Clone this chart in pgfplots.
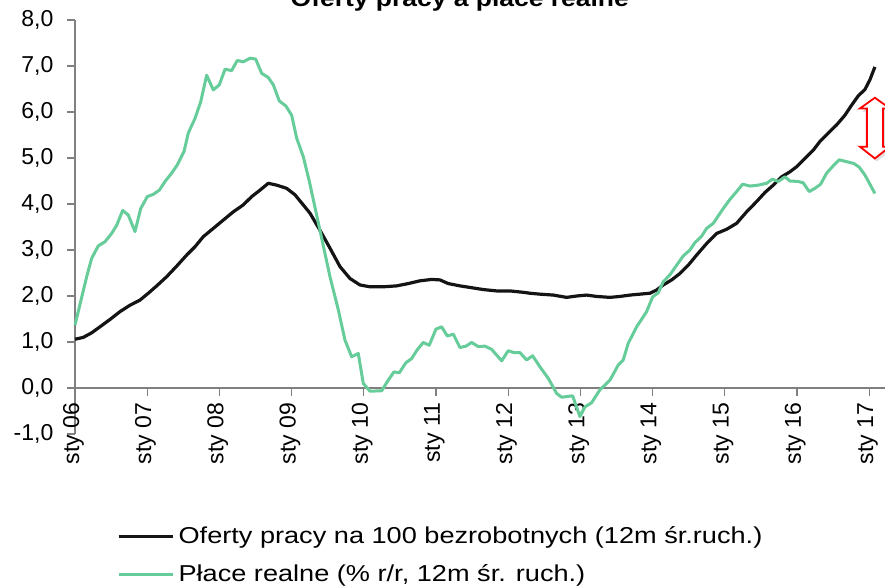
\documentclass[border=0pt]{standalone}
\usepackage{fontspec}
\setmainfont{Liberation Sans}
\newfontfamily\legfont{Liberation Sans}[FakeStretch=1.18]
\newfontfamily\titfont{Liberation Sans}[FakeStretch=1.15]
\usepackage{pgfplots}
\pgfplotsset{compat=1.18}
\usetikzlibrary{shadows}
\definecolor{grn}{RGB}{102,204,153}
\definecolor{axgray}{RGB}{128,128,128}
\begin{document}
\begin{tikzpicture}
\begin{axis}[
  name=ax,
  scale only axis, width=405pt, height=207pt,
  xmin=0, xmax=11.22, ymin=-1, ymax=8,
  axis x line*=middle, axis y line*=left,
  hide obscured x ticks=false, hide obscured y ticks=false,
  axis line style={axgray, line width=0.6pt},
  tick style={axgray, line width=0.6pt},
  tick align=outside, major tick length=4pt,
  xtick={0,1,2,3,4,5,6,7,8,9,10,11},
  xticklabels={sty 06,sty 07,sty 08,sty 09,sty 10,sty 11,sty 12,sty 13,sty 14,sty 15,sty 16,sty 17},
  ytick={-1,0,1,2,3,4,5,6,7,8},
  yticklabels={{-1,0},{0,0},{1,0},{2,0},{3,0},{4,0},{5,0},{6,0},{7,0},{8,0}},
  x tick label style={rotate=90, anchor=east, yshift=0.8pt},
  y tick label style={xshift=-3.3pt},
  tick label style={font=\fontsize{11.5}{13}\selectfont, text=black},
  clip=false,
  legend style={draw=none, fill=none, at={(0,0)}, anchor=north west, xshift=21pt, yshift=-44pt,
    font=\legfont\fontsize{11.5}{13}\selectfont, row sep=5pt, inner sep=0pt},
  legend cell align=left,
  legend image code/.code={\draw[#1] (0pt,0pt) -- (27pt,0pt);},
  line join=round,
]
\addplot[black!92, line width=1.6pt] coordinates {
(0,1.06) (0.115,1.10) (0.231,1.20) (0.346,1.33) (0.485,1.49) (0.623,1.66) (0.762,1.80) (0.900,1.91)
(1.015,2.06) (1.132,2.22) (1.270,2.42) (1.409,2.65) (1.547,2.89) (1.662,3.07) (1.777,3.29) (1.916,3.47)
(2.054,3.65) (2.193,3.83) (2.331,3.98) (2.447,4.16) (2.562,4.30) (2.677,4.45) (2.794,4.41) (2.932,4.34)
(3.047,4.20) (3.162,3.98) (3.255,3.80) (3.393,3.43) (3.532,3.04) (3.670,2.64) (3.809,2.38) (3.947,2.24)
(4.086,2.20) (4.270,2.20) (4.456,2.22) (4.616,2.27) (4.778,2.33) (4.940,2.36) (5.055,2.35) (5.170,2.27)
(5.332,2.22) (5.494,2.18) (5.655,2.14) (5.841,2.11) (6.025,2.11) (6.209,2.08) (6.302,2.06) (6.440,2.04)
(6.625,2.02) (6.810,1.97) (6.949,2.00) (7.087,2.02) (7.226,1.99) (7.410,1.97) (7.548,1.99) (7.687,2.02)
(7.825,2.04) (7.964,2.06) (8.057,2.13) (8.148,2.24) (8.265,2.35) (8.380,2.49) (8.495,2.67) (8.611,2.89)
(8.749,3.14) (8.888,3.36) (9.026,3.45) (9.165,3.58) (9.303,3.83) (9.440,4.05) (9.557,4.25) (9.672,4.41)
(9.788,4.59) (9.903,4.70) (9.996,4.81) (10.111,4.99) (10.226,5.17) (10.319,5.36) (10.433,5.54) (10.550,5.72)
(10.665,5.93) (10.758,6.15) (10.849,6.35) (10.942,6.49) (11.011,6.70) (11.080,6.98)
};
\addlegendentry{Oferty pracy na 100 bezrobotnych (12m śr.ruch.)}
\addplot[grn, line width=1.5pt] coordinates {
(0,1.37) (0.162,2.42) (0.231,2.82) (0.323,3.09) (0.416,3.18) (0.508,3.36) (0.578,3.54) (0.661,3.86)
(0.738,3.76) (0.831,3.40) (0.910,3.90) (1.001,4.16) (1.084,4.21) (1.168,4.30) (1.247,4.49) (1.339,4.67)
(1.417,4.85) (1.510,5.14) (1.569,5.54) (1.662,5.86) (1.741,6.22) (1.824,6.80) (1.916,6.48) (1.999,6.59)
(2.078,6.93) (2.170,6.90) (2.248,7.12) (2.331,7.09) (2.424,7.17) (2.503,7.15) (2.586,6.84) (2.677,6.75)
(2.747,6.59) (2.830,6.24) (2.922,6.13) (3.001,5.93) (3.071,5.43) (3.162,5.03) (3.245,4.50) (3.393,3.43)
(3.532,2.42) (3.647,1.70) (3.740,1.04) (3.832,0.68) (3.924,0.75) (3.993,0.10) (4.086,-0.07) (4.248,-0.06)
(4.339,0.17) (4.418,0.35) (4.492,0.33) (4.584,0.55) (4.663,0.64) (4.741,0.83) (4.824,0.99) (4.907,0.93)
(5.000,1.28) (5.079,1.33) (5.157,1.13) (5.240,1.17) (5.332,0.88) (5.416,0.91) (5.494,0.99) (5.586,0.90)
(5.679,0.91) (5.771,0.84) (5.910,0.59) (6.001,0.81) (6.080,0.77) (6.163,0.77) (6.256,0.61) (6.339,0.70)
(6.440,0.46) (6.556,0.21) (6.672,-0.12) (6.741,-0.20) (6.893,-0.17) (6.994,-0.62) (7.064,-0.41) (7.156,-0.32)
(7.271,-0.04) (7.410,0.17) (7.525,0.50) (7.594,0.61) (7.663,0.97) (7.780,1.33) (7.918,1.66) (8.001,1.98)
(8.079,2.07) (8.148,2.31) (8.241,2.46) (8.334,2.67) (8.425,2.87) (8.518,3.00) (8.587,3.16) (8.680,3.30)
(8.749,3.47) (8.841,3.58) (8.888,3.69) (8.979,3.90) (9.072,4.10) (9.165,4.27) (9.247,4.43) (9.349,4.39)
(9.464,4.41) (9.580,4.45) (9.661,4.54) (9.741,4.49) (9.834,4.59) (9.903,4.50) (10.018,4.49) (10.087,4.46)
(10.170,4.27) (10.249,4.34) (10.328,4.43) (10.411,4.67) (10.503,4.83) (10.586,4.96) (10.688,4.92) (10.789,4.88)
(10.863,4.80) (10.942,4.63) (11.011,4.43) (11.080,4.23)
};
\addlegendentry{Płace realne (\% r/r, 12m śr. ruch.)}
\draw[red, line width=0.9pt, fill=white, line join=miter, drop shadow={opacity=0.25, shadow xshift=1pt, shadow yshift=-1.5pt}]
  (axis cs:11.080,6.31) -- (axis cs:11.288,6.076) -- (axis cs:11.191,6.076) -- (axis cs:11.191,5.246)
  -- (axis cs:11.288,5.246) -- (axis cs:11.080,4.99) -- (axis cs:10.872,5.246) -- (axis cs:10.969,5.246)
  -- (axis cs:10.969,6.076) -- (axis cs:10.872,6.076) -- cycle;
\end{axis}
\node[anchor=base, inner sep=0pt, font=\titfont\bfseries\fontsize{11.5}{13}\selectfont]
  at ([shift={(192.4pt,6.5pt)}]ax.north west) {Oferty pracy a płace realne};
\pgfresetboundingbox
\path[use as bounding box] ([shift={(-37.5pt,-76.5pt)}]ax.south west) rectangle ([shift={(405pt,217pt)}]ax.south west);
\end{tikzpicture}
\end{document}
